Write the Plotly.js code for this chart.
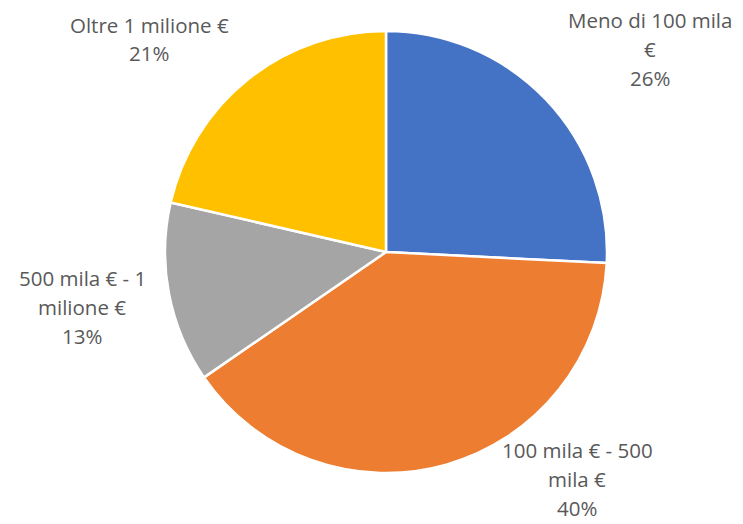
<!DOCTYPE html>
<html>
<head>
<meta charset="utf-8">
<script src="https://cdn.plot.ly/plotly-3.0.1.min.js"></script>
<style>html,body{margin:0;padding:0;background:#fff;}#chart{width:743px;height:524px;}</style>
</head>
<body>
<div id="chart"></div>
<script>
// Data
const categories = ["Meno di 100 mila €", "100 mila € - 500 mila €", "500 mila € - 1 milione €", "Oltre 1 milione €"];
const values = [25.8, 39.6, 13.2, 21.4];
const labelLines = [
  ["Meno di 100 mila", "€"],
  ["100 mila € - 500", "mila €"],
  ["500 mila € - 1", "milione €"],
  ["Oltre 1 milione €"]
];

// Styles / layout helpers
const colors = ["#4472C4", "#ED7D31", "#A5A5A5", "#FFC000"];
const W = 743, H = 524;
const cx = 386, cy = 252, R = 221;
const labelCenters = [[650, 49], [577, 479], [82, 307], [149, 39]]; // block centres in px
const lineGap = 29;
const fontSpec = {family: "'Open Sans', Lato, sans-serif", size: 20.5, color: "#595959"};

const total = values.reduce((a, b) => a + b, 0);
const annotations = [];
categories.forEach((c, i) => {
  const lines = labelLines[i].concat([Math.round(values[i] / total * 100) + "%"]);
  const n = lines.length;
  lines.forEach((t, k) => {
    const py = labelCenters[i][1] + (k - (n - 1) / 2) * lineGap;
    annotations.push({
      xref: "paper", yref: "paper",
      x: labelCenters[i][0] / W, y: 1 - py / H,
      xanchor: "center", yanchor: "middle",
      text: t, showarrow: false, font: fontSpec, borderpad: 0
    });
  });
});

const trace = {
  type: "pie",
  labels: categories,
  values: values,
  sort: false,
  direction: "clockwise",
  rotation: 0,
  textinfo: "none",
  hoverinfo: "label+percent",
  marker: {colors: colors, line: {color: "#FFFFFF", width: 2.5}},
  domain: {x: [(cx - R) / W, (cx + R) / W], y: [(H - cy - R) / H, (H - cy + R) / H]},
  showlegend: false
};

const layout = {
  width: W, height: H,
  margin: {l: 0, r: 0, t: 0, b: 0},
  paper_bgcolor: "#FFFFFF",
  showlegend: false,
  annotations: annotations
};

Plotly.newPlot("chart", [trace], layout, {displayModeBar: false, staticPlot: true});
</script>
</body>
</html>
